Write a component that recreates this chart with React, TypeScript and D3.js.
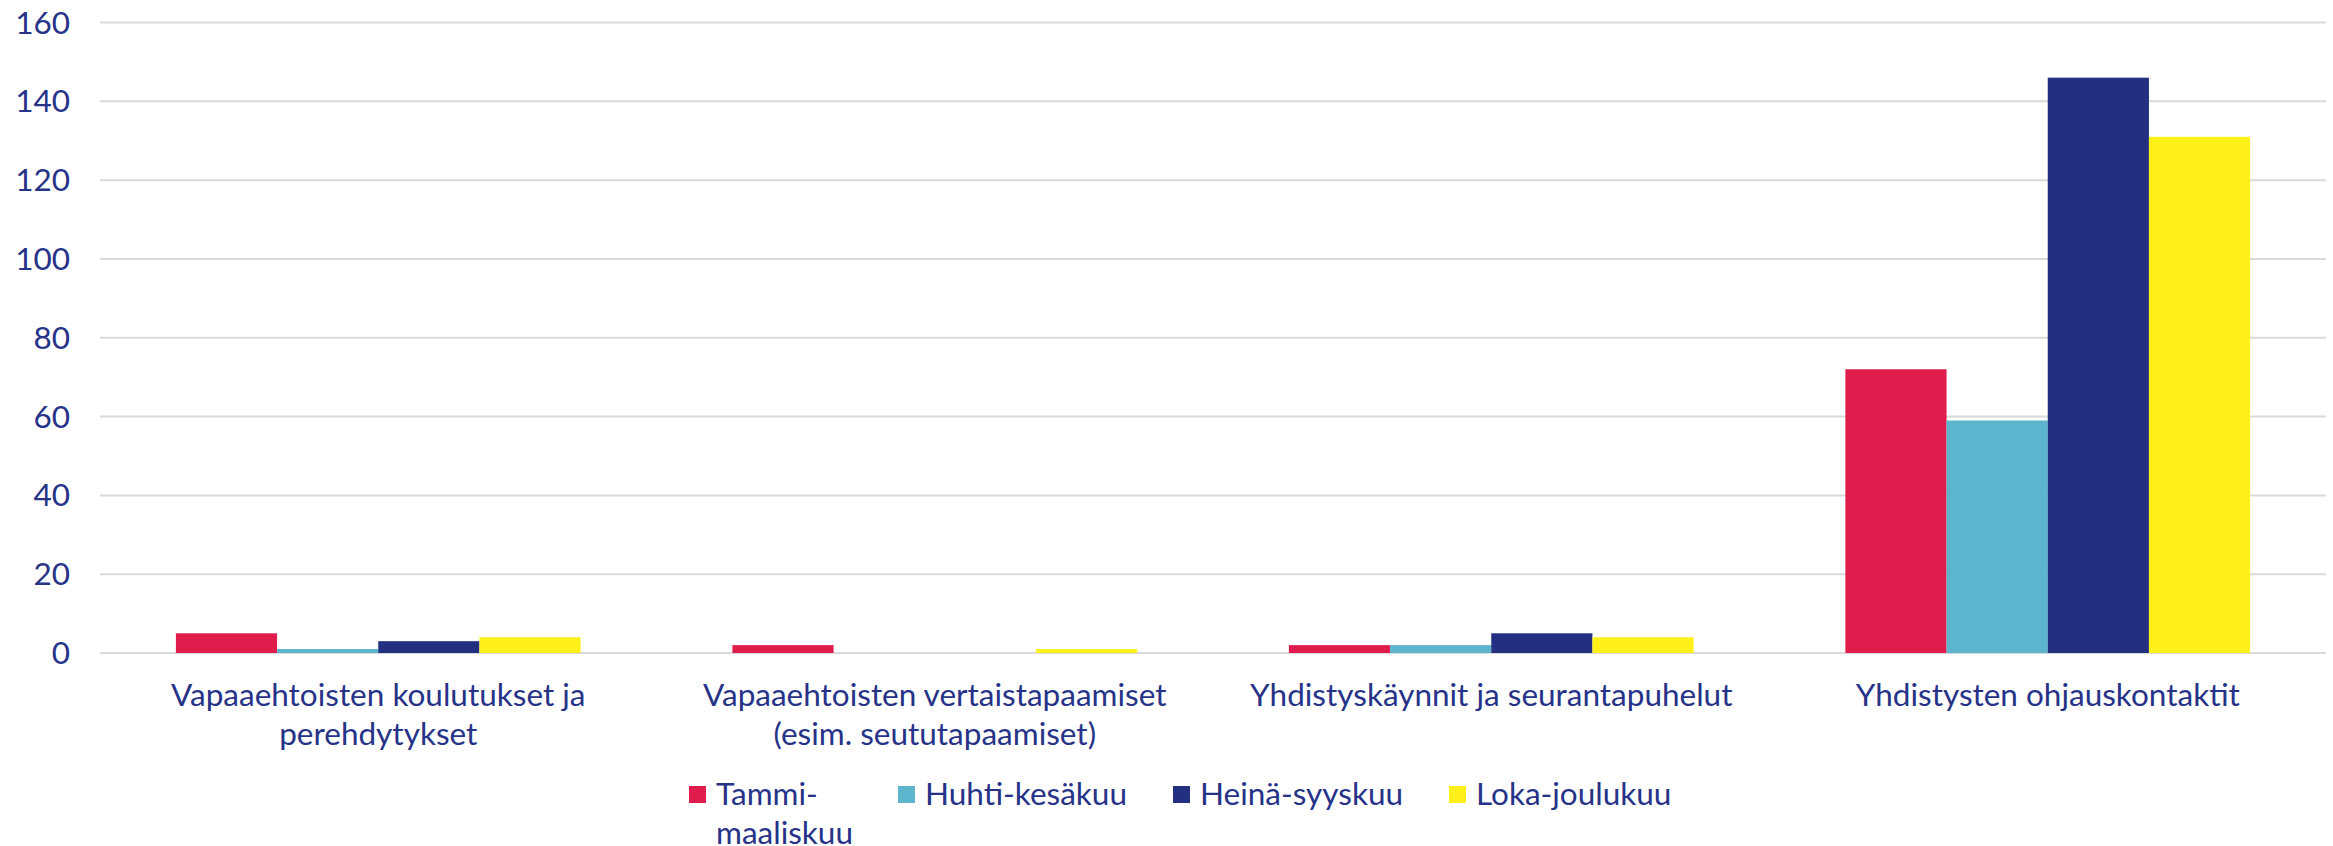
import React, { useEffect, useRef } from 'react'
import * as d3 from 'd3'

const categories = [
  'Vapaaehtoisten koulutukset ja\nperehdytykset',
  'Vapaaehtoisten vertaistapaamiset\n(esim. seututapaamiset)',
  'Yhdistyskäynnit ja seurantapuhelut',
  'Yhdistysten ohjauskontaktit'
]
const seriesNames = ['Tammi-\nmaaliskuu', 'Huhti-kesäkuu', 'Heinä-syyskuu', 'Loka-joulukuu']
const seriesColors = ['#df1c4c', '#5db4cd', '#232f80', '#fff01a']
const tammiMaalis = [5, 2, 2, 72]
const huhtiKesa = [1, 0, 2, 59]
const heinaSyys = [3, 0, 5, 146]
const lokaJoulu = [4, 1, 4, 131]
const yTicks = [0, 20, 40, 60, 80, 100, 120, 140, 160]

const W = 2333
const H = 846
const TEXT = '#263388'
const FONT = 'Lato, "Open Sans", sans-serif'
const FS = '31.5px'

const App = () => {
  const ref = useRef<SVGSVGElement>(null)

  useEffect(() => {
    const svg = d3.select(ref.current)
    svg.selectAll('*').remove()

    const margin = { left: 100, right: 7, top: 22.5, zero: 653 }
    const series = [tammiMaalis, huhtiKesa, heinaSyys, lokaJoulu]

    const x = d3.scaleBand<number>()
      .domain(d3.range(categories.length))
      .range([margin.left, W - margin.right])
    const step = x.step()
    // excel style: gap width 150% of a bar
    const barW = step / 5.5
    const xs = d3.scaleBand<number>()
      .domain(d3.range(series.length))
      .range([barW * 0.75, step - barW * 0.75])

    const y = d3.scaleLinear().domain([0, 160]).range([margin.zero, margin.top])

    // grid
    svg.append('g')
      .selectAll('line')
      .data(yTicks)
      .join('line')
      .attr('x1', margin.left)
      .attr('x2', W - margin.right)
      .attr('y1', d => y(d))
      .attr('y2', d => y(d))
      .attr('stroke', '#d9d9d9')
      .attr('stroke-width', 2)

    svg.append('g')
      .selectAll('text')
      .data(yTicks)
      .join('text')
      .attr('x', 70)
      .attr('y', d => y(d))
      .attr('dy', '0.35em')
      .attr('text-anchor', 'end')
      .style('font-family', FONT)
      .style('font-size', FS)
      .style('fill', TEXT)
      .text(d => d)

    // bars
    const groups = svg.append('g')
      .selectAll('g')
      .data(categories.map((c, i) => i))
      .join('g')
      .attr('transform', i => `translate(${x(i)},0)`)

    groups.selectAll('rect')
      .data(i => series.map((s, k) => ({ k, v: s[i] })))
      .join('rect')
      .attr('x', d => xs(d.k)!)
      .attr('width', xs.bandwidth())
      .attr('y', d => y(d.v))
      .attr('height', d => y(0) - y(d.v))
      .attr('fill', d => seriesColors[d.k])

    // category labels
    const labels = svg.append('g')
      .selectAll('text')
      .data(categories)
      .join('text')
      .attr('x', (d, i) => x(i)! + step / 2)
      .attr('y', 706)
      .attr('text-anchor', 'middle')
      .style('font-family', FONT)
      .style('font-size', FS)
      .style('fill', TEXT)

    labels.selectAll('tspan')
      .data(d => d.split('\n'))
      .join('tspan')
      .attr('x', function () {
        return (this.parentNode as SVGTextElement).getAttribute('x')
      })
      .attr('dy', (d, i) => (i === 0 ? 0 : 39))
      .text(d => d)

    // legend
    const legendX = [689, 898, 1173, 1449]
    const legend = svg.append('g')
      .selectAll('g')
      .data(seriesNames)
      .join('g')
      .attr('transform', (d, i) => `translate(${legendX[i]},805)`)

    legend.append('rect')
      .attr('x', 0)
      .attr('y', -19)
      .attr('width', 17)
      .attr('height', 17)
      .attr('fill', (d, i) => seriesColors[i])

    const lt = legend.append('text')
      .attr('x', 27)
      .attr('y', 0)
      .style('font-family', FONT)
      .style('font-size', FS)
      .style('fill', TEXT)

    lt.selectAll('tspan')
      .data(d => d.split('\n'))
      .join('tspan')
      .attr('x', 27)
      .attr('dy', (d, i) => (i === 0 ? 0 : 39))
      .text(d => d)
  }, [])

  return (
    <svg
      ref={ref}
      width={W}
      height={H}
      style={{ position: 'fixed', left: 0, top: 0, background: '#fff' }}
    />
  )
}

export default App
